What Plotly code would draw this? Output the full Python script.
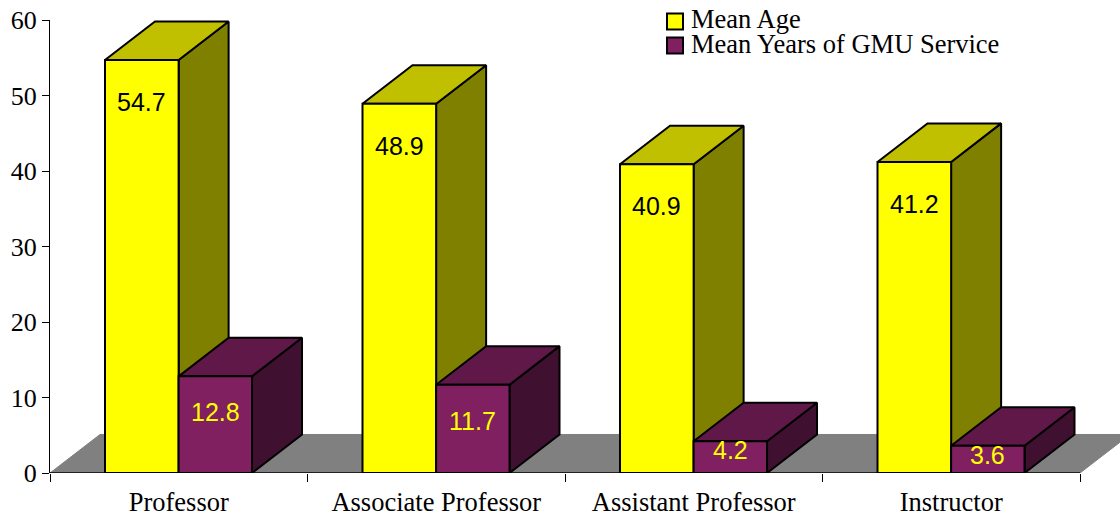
import plotly.graph_objects as go

categories = ["Professor", "Associate Professor", "Assistant Professor", "Instructor"]
mean_age = [54.7, 48.9, 40.9, 41.2]
mean_service = [12.8, 11.7, 4.2, 3.6]
y_ticks = [0, 10, 20, 30, 40, 50, 60]

W, H = 1120, 517
L, T, B = 50, 20, 44.3
GROUP_PX = 257.5
PW = W - L
PX_Y = (H - T - B) / 60
DX = 50 / GROUP_PX
DY = 38.5 / PX_Y
AGE_LEFT, MID, SERVICE_RIGHT = 0.2136, 0.4995, 0.7845


def polys(values, left, right, face):
    xs, ys = [], []
    for i, v in enumerate(values):
        a, b = i + left, i + right
        if face == "front":
            px, py = [a, b, b, a, a], [0, 0, v, v, 0]
        elif face == "top":
            px, py = [a, b, b + DX, a + DX, a], [v, v, v + DY, v + DY, v]
        else:
            px, py = [b, b + DX, b + DX, b, b], [0, DY, v + DY, v, 0]
        xs += px + [None]
        ys += py + [None]
    return xs, ys


def face_trace(values, left, right, face, color, name):
    x, y = polys(values, left, right, face)
    return go.Scatter(x=x, y=y, mode="lines", fill="toself", fillcolor=color,
                      line=dict(color="black", width=2), name=name,
                      showlegend=False, cliponaxis=False, hoverinfo="skip")


fig = go.Figure()
n = len(categories)
fig.add_trace(go.Scatter(x=[0, DX, n + DX, n, 0], y=[0, DY, DY, 0, 0], mode="lines", fill="toself",
                         fillcolor="#808080", line=dict(color="#808080", width=1),
                         showlegend=False, cliponaxis=False, hoverinfo="skip"))
fig.add_trace(go.Scatter(x=[0, n], y=[0, 0], mode="lines", line=dict(color="black", width=1.5),
                         showlegend=False, cliponaxis=False, hoverinfo="skip"))
for face, color in [("side", "#808000"), ("top", "#C0C000"), ("front", "#FFFF00")]:
    fig.add_trace(face_trace(mean_age, AGE_LEFT, MID, face, color, "Mean Age"))
for face, color in [("side", "#401030"), ("top", "#601848"), ("front", "#802060")]:
    fig.add_trace(face_trace(mean_service, MID, SERVICE_RIGHT, face, color, "Mean Years of GMU Service"))

annotations = []
for i, v in enumerate(mean_age):
    annotations.append(dict(x=i + (AGE_LEFT + MID) / 2, y=v, yshift=-42, text=str(v), showarrow=False,
                            yanchor="middle", font=dict(family="Liberation Sans", size=25, color="black")))
for i, v in enumerate(mean_service):
    annotations.append(dict(x=i + (MID + SERVICE_RIGHT) / 2, y=v, yshift=-36 if v > 10 else -9, text=str(v),
                            showarrow=False, yanchor="middle",
                            font=dict(family="Liberation Sans", size=25, color="#FFFF00")))

# Legend entries
for name, color, ypx in [("Mean Age", "#FFFF00", 21.5), ("Mean Years of GMU Service", "#802060", 45.5)]:
    fig.add_shape(type="rect", xref="paper", yref="paper",
                  x0=(667 - L) / PW, x1=(683 - L) / PW,
                  y0=1 - (ypx + 8 - T) / (H - T - B), y1=1 - (ypx - 8 - T) / (H - T - B),
                  fillcolor=color, line=dict(color="black", width=2))
    annotations.append(dict(xref="paper", yref="paper", x=(689 - L) / PW,
                            y=1 - (ypx - 2 - T) / (H - T - B), text=name, showarrow=False,
                            xanchor="left", yanchor="middle",
                            font=dict(family="Liberation Serif", size=26.5, color="black")))

fig.update_layout(
    width=W, height=H, paper_bgcolor="white", plot_bgcolor="white", showlegend=False,
    margin=dict(l=L, r=0, t=T, b=B, autoexpand=False),
    annotations=annotations,
    font=dict(family="Liberation Serif", size=26, color="black"),
    xaxis=dict(range=[0, PW / GROUP_PX], tickmode="array", tickvals=[i + 0.5 for i in range(n)],
               ticktext=categories, ticks="outside", ticklen=5, tickcolor="rgba(0,0,0,0)",
               tickfont=dict(size=26.5), showgrid=False, zeroline=False, showline=False,
               minor=dict(tickmode="array", tickvals=list(range(n + 1)), ticks="outside", ticklen=8,
                          tickcolor="black", tickwidth=1, showgrid=False)),
    yaxis=dict(range=[0, 60], tickmode="array", tickvals=y_ticks, ticks="outside", ticklen=7,
               tickcolor="black", showgrid=False, zeroline=False, showline=True,
               linecolor="black", linewidth=1),
)
fig.write_html("out.html", post_script="document.body.style.margin='0';",
               config=dict(displayModeBar=False))
